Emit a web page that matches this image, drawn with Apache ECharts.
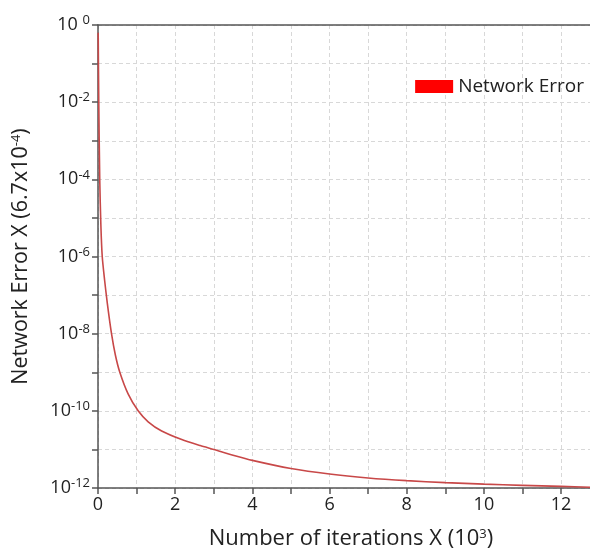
<!DOCTYPE html>
<html><head><meta charset="utf-8">
<script src="https://cdn.jsdelivr.net/npm/echarts@6/dist/echarts.min.js"></script>
<style>html,body{margin:0;padding:0;background:#fff}#c{width:590px;height:554px}</style>
</head><body><div id="c"></div>
<script>
const seriesName = 'Network Error';
const iterations = [0.005, 0.02, 0.045, 0.075, 0.11, 0.17, 0.24, 0.35, 0.45, 0.565, 0.78, 1.04, 1.3, 1.65, 2.17, 2.65, 3, 3.5, 4, 5, 6, 7, 8, 9, 10, 11, 12, 12.75];
const errors = [0.63, 1e-2, 1e-4, 6.3e-6, 1e-6, 2.5e-7, 6.3e-8, 1e-8, 2.8e-9, 1e-9, 2.75e-10, 1e-10, 5.2e-11, 3.0e-11, 1.8e-11, 1.26e-11, 1e-11, 7.1e-12, 5.2e-12, 3.2e-12, 2.3e-12, 1.82e-12, 1.55e-12, 1.38e-12, 1.26e-12, 1.17e-12, 1.1e-12, 1.05e-12];
const xTickLabels = ['0', '2', '4', '6', '8', '10', '12'];
const yExponents = [0, -2, -4, -6, -8, -10, -12];

const FONT = 'Open Sans';
const sup = { fontSize: 13, color: '#222', fontFamily: FONT, verticalAlign: 'top', padding: [0, 0, 9, 0] };
const chart = echarts.init(document.getElementById('c'));
chart.setOption({
  animation: false,
  textStyle: { fontFamily: FONT },
  grid: { left: 98, top: 25, right: 0, bottom: 66, containLabel: false, outerBoundsMode: 'none' },
  legend: {
    right: 1, top: 72,
    itemWidth: 38, itemHeight: 13, itemGap: 8,
    data: [{ name: seriesName, icon: 'rect', itemStyle: { color: '#ff0000' } }],
    textStyle: { fontFamily: FONT, fontSize: 19, color: '#222' }
  },
  xAxis: [{
    type: 'value', min: 0, max: 12.75, interval: 1,
    axisLine: { show: true, onZero: false, lineStyle: { color: '#555', width: 1.5 } },
    axisTick: { show: true, length: 6, lineStyle: { color: '#555', width: 1.5 } },
    axisLabel: {
      fontSize: 18, color: '#222', margin: 8, showMaxLabel: false,
      formatter: v => { const s = String(Math.round(v)); return (Math.abs(v - Math.round(v)) < 1e-9 && xTickLabels.includes(s)) ? s : ''; }
    },
    splitLine: { show: true, lineStyle: { color: '#d8d8d8', type: [4, 3], width: 1 } },
    name: '{t|Number of iterations X (10}{s|3}{t|)}',
    nameLocation: 'middle', nameGap: 40,
    nameTextStyle: { padding: [0, 0, 0, 14], rich: { t: { fontSize: 22, color: '#222', fontFamily: FONT }, s: sup } }
  }, {
    type: 'value', position: 'top', min: 0, max: 12.75,
    axisLine: { show: true, lineStyle: { color: '#555', width: 1.5 } },
    axisTick: { show: false }, axisLabel: { show: false }, splitLine: { show: false }
  }],
  yAxis: {
    type: 'log', logBase: 10, min: 1e-12, max: 1, interval: 1,
    axisLine: { show: true, onZero: false, lineStyle: { color: '#555', width: 1.5 } },
    axisTick: { show: true, length: 6, lineStyle: { color: '#555', width: 1.5 } },
    axisLabel: {
      margin: 8, color: '#222',
      formatter: v => {
        const e = Math.round(Math.log10(v));
        if (!yExponents.includes(e)) return '';
        return '{b|10' + (e === 0 ? ' ' : '') + '}{s|' + e + '}';
      },
      rich: { b: { fontSize: 18, color: '#222', fontFamily: FONT }, s: sup }
    },
    splitLine: { show: true, lineStyle: { color: '#d8d8d8', type: [4, 3], width: 1 } },
    name: '{t|Network Error X (6.7x10}{s|-4}{t|)}',
    nameLocation: 'middle', nameGap: 66,
    nameTextStyle: { rich: { t: { fontSize: 21.5, color: '#222', fontFamily: FONT }, s: sup } }
  },
  series: [{
    name: seriesName, type: 'line', xAxisIndex: 0,
    data: iterations.map((x, i) => [x, errors[i]]),
    smooth: 0.25, showSymbol: false,
    lineStyle: { color: '#c84848', width: 1.6 },
    itemStyle: { color: '#ff0000' }
  }]
});
</script></body></html>
